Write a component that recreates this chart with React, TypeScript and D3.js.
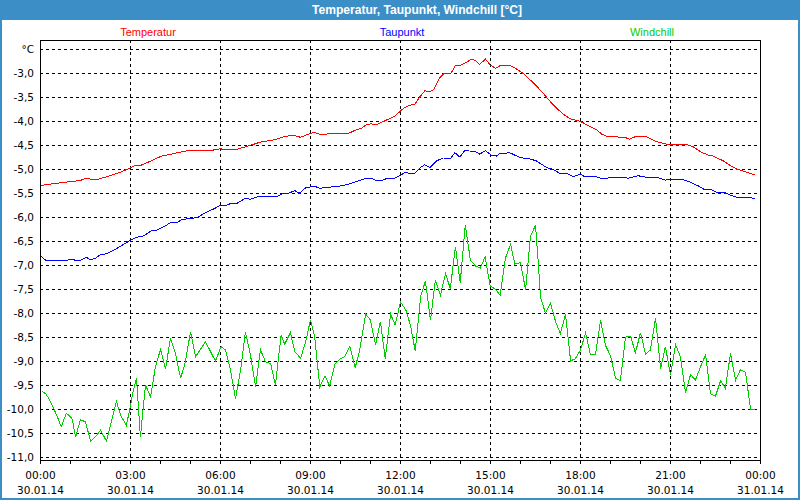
import React from "react";
import * as d3 from "d3";

const tempHours = [0.02,0.76,1.32,1.48,1.87,2.32,2.65,2.98,3.15,3.32,3.65,4.04,4.43,4.87,5.21,5.48,5.71,5.98,6.15,6.54,6.98,7.32,7.82,8.09,8.42,8.67,8.98,9.14,9.31,9.81,10.26,10.53,10.7,10.87,11.03,11.2,11.53,11.81,12.0,12.14,12.31,12.48,12.64,12.81,12.98,13.11,13.29,13.44,13.67,13.83,13.98,14.14,14.34,14.48,14.64,14.83,15.0,15.17,15.34,15.64,15.81,16.09,16.42,16.7,17.03,17.37,17.64,18.0,18.31,18.53,18.7,18.92,19.14,19.48,19.64,19.81,20.2,20.53,20.87,21.09,21.31,21.53,21.76,22.03,22.26,22.42,22.76,22.98,23.2,23.42,23.64,23.81];
const tempValues = [-5.33,-5.27,-5.23,-5.19,-5.21,-5.13,-5.06,-4.97,-4.92,-4.92,-4.83,-4.72,-4.67,-4.61,-4.6,-4.61,-4.6,-4.57,-4.58,-4.58,-4.5,-4.43,-4.38,-4.32,-4.28,-4.33,-4.25,-4.23,-4.27,-4.25,-4.25,-4.17,-4.14,-4.06,-4.05,-4.07,-3.97,-3.89,-3.78,-3.71,-3.66,-3.64,-3.49,-3.36,-3.38,-3.33,-3.1,-3.01,-3.01,-2.83,-2.83,-2.79,-2.71,-2.72,-2.81,-2.7,-2.83,-2.89,-2.83,-2.83,-2.88,-3.0,-3.19,-3.37,-3.61,-3.82,-3.94,-4.0,-4.1,-4.17,-4.26,-4.32,-4.32,-4.33,-4.37,-4.32,-4.32,-4.42,-4.47,-4.49,-4.47,-4.48,-4.53,-4.64,-4.7,-4.72,-4.82,-4.91,-4.99,-5.03,-5.08,-5.11];

const dewHours = [0.03,0.17,0.89,1.0,1.17,1.33,1.53,1.67,1.83,2.0,2.17,2.44,2.72,3.0,3.17,3.44,3.72,3.89,4.17,4.33,4.56,4.72,4.89,5.22,5.5,5.78,6.02,6.22,6.33,6.56,6.83,7.0,7.22,7.89,8.06,8.2,8.48,8.62,8.84,9.14,9.31,9.76,10.03,10.26,10.53,10.87,11.03,11.18,11.37,11.53,11.81,11.98,12.14,12.31,12.48,12.64,12.81,12.98,13.2,13.42,13.67,13.81,13.98,14.14,14.48,14.64,14.83,15.03,15.2,15.31,15.64,15.98,16.31,16.53,16.87,17.09,17.31,17.53,17.76,18.0,18.14,18.53,18.67,18.87,19.2,19.42,19.59,19.92,20.09,20.31,20.59,20.81,21.09,21.31,21.48,21.64,21.92,22.14,22.36,22.59,22.76,22.98,23.2,23.53,23.81];
const dewValues = [-6.81,-6.89,-6.89,-6.87,-6.89,-6.89,-6.83,-6.88,-6.85,-6.77,-6.76,-6.68,-6.58,-6.47,-6.42,-6.38,-6.27,-6.26,-6.17,-6.11,-6.1,-6.04,-6.03,-6.0,-5.9,-5.82,-5.74,-5.74,-5.71,-5.7,-5.6,-5.62,-5.57,-5.56,-5.51,-5.51,-5.44,-5.5,-5.38,-5.35,-5.39,-5.36,-5.34,-5.31,-5.25,-5.18,-5.18,-5.23,-5.23,-5.19,-5.18,-5.13,-5.06,-5.08,-5.08,-4.97,-4.9,-4.96,-4.82,-4.76,-4.77,-4.65,-4.74,-4.61,-4.62,-4.68,-4.61,-4.7,-4.72,-4.67,-4.65,-4.75,-4.78,-4.82,-4.96,-5.0,-5.08,-5.08,-5.15,-5.1,-5.15,-5.15,-5.18,-5.18,-5.16,-5.17,-5.18,-5.13,-5.15,-5.17,-5.17,-5.22,-5.21,-5.21,-5.22,-5.26,-5.34,-5.42,-5.42,-5.49,-5.47,-5.53,-5.58,-5.58,-5.6];

const chillHours = [0.03,0.17,0.28,0.39,0.56,0.69,0.86,1.0,1.06,1.17,1.33,1.5,1.67,1.83,2.0,2.2,2.39,2.53,2.67,2.86,3.0,3.06,3.2,3.33,3.5,3.67,3.83,4.0,4.17,4.33,4.5,4.67,4.83,5.0,5.17,5.5,5.83,6.02,6.17,6.33,6.5,6.67,6.83,7.0,7.17,7.33,7.5,7.67,7.83,8.02,8.14,8.33,8.48,8.67,8.84,9.0,9.14,9.31,9.48,9.64,9.81,9.98,10.14,10.31,10.49,10.64,10.84,11.0,11.17,11.33,11.49,11.67,11.82,12.0,12.18,12.33,12.49,12.67,12.83,13.0,13.16,13.33,13.5,13.66,13.83,13.99,14.16,14.33,14.5,14.66,14.82,14.99,15.16,15.32,15.5,15.67,15.81,16.0,16.17,16.33,16.5,16.59,16.67,16.83,17.0,17.17,17.33,17.5,17.67,17.83,18.0,18.17,18.33,18.5,18.67,18.83,19.0,19.17,19.33,19.5,19.67,19.83,20.0,20.17,20.33,20.5,20.67,20.83,21.0,21.17,21.33,21.5,21.67,21.83,22.0,22.17,22.33,22.5,22.67,22.83,23.0,23.17,23.33,23.5,23.67,23.81];
const chillValues = [-9.61,-9.67,-9.77,-9.91,-10.15,-10.36,-10.08,-10.15,-10.2,-10.58,-10.21,-10.26,-10.66,-10.57,-10.43,-10.66,-10.19,-9.83,-10.12,-10.33,-9.93,-9.7,-9.35,-10.57,-9.49,-9.74,-9.11,-8.75,-9.15,-8.52,-8.83,-9.35,-9.01,-8.38,-8.9,-8.59,-8.99,-8.69,-8.76,-9.17,-9.77,-9.18,-8.38,-8.87,-9.53,-8.75,-9.01,-9.04,-9.49,-8.45,-8.64,-8.4,-8.8,-8.93,-8.59,-8.13,-8.49,-9.53,-9.3,-9.51,-9.06,-8.95,-8.9,-8.69,-9.13,-8.76,-8.01,-8.14,-8.66,-8.17,-8.94,-8.01,-8.24,-7.76,-7.93,-8.24,-8.78,-7.65,-7.32,-8.14,-7.31,-7.62,-7.17,-7.48,-6.61,-7.36,-6.15,-6.89,-7.01,-7.05,-6.82,-7.43,-7.49,-7.62,-6.84,-6.56,-6.97,-6.94,-7.51,-6.4,-6.16,-6.92,-7.67,-7.99,-7.79,-8.17,-8.42,-8.01,-8.99,-8.94,-8.76,-8.4,-8.85,-8.85,-8.14,-8.66,-8.88,-9.35,-9.4,-8.49,-8.47,-8.82,-8.4,-8.85,-8.76,-8.1,-9.15,-8.69,-9.28,-8.65,-8.9,-9.65,-9.27,-9.39,-9.11,-8.86,-9.67,-9.72,-9.4,-9.56,-8.83,-9.39,-9.17,-9.22,-10.0,-10.0];

const seriesNames = ["Temperatur", "Taupunkt", "Windchill"];
const seriesColors = ["#ff0000", "#0000ff", "#00cc00"];
const yTickValues = [-2.5,-3,-3.5,-4,-4.5,-5,-5.5,-6,-6.5,-7,-7.5,-8,-8.5,-9,-9.5,-10,-10.5,-11];
const xTickHours = [0,3,6,9,12,15,18,21,24];
const xTimeLabels = ["00:00","03:00","06:00","09:00","12:00","15:00","18:00","21:00","00:00"];
const xDateLabels = ["30.01.14","30.01.14","30.01.14","30.01.14","30.01.14","30.01.14","30.01.14","30.01.14","31.01.14"];
const title = "Temperatur, Taupunkt, Windchill [°C]";

export default function App() {
  const W = 800, H = 500;
  const left = 40, right = 760, top = 40, bottom = 460;
  const x = d3.scaleLinear().domain([0, 24]).range([40.5, 760.5]);
  const y = d3.scaleLinear().domain([-11, -2.5]).range([457.5, 49.5]);
  const line = d3.line<[number, number]>().x(d => x(d[0])).y(d => y(d[1]));
  const series = [
    tempHours.map((h, i) => [h, tempValues[i]] as [number, number]),
    dewHours.map((h, i) => [h, dewValues[i]] as [number, number]),
    chillHours.map((h, i) => [h, chillValues[i]] as [number, number]),
  ];
  const legendX = [148, 402, 652];
  const fmt = (v: number) => d3.format(".1f")(v).replace(".", ",").replace("−", "-");
  const minorHours = d3.range(0, 25);
  const font = "'DejaVu Sans', Verdana, sans-serif";
  return (
    <svg width={W} height={H} style={{ position: "fixed", left: 0, top: 0, background: "#fff" }}>
      <rect x={0} y={0} width={W} height={H} fill="#ffffff" />
      <rect x={0} y={0} width={W} height={20} fill="#3c8ec6" />
      <rect x={1} y={1} width={W - 2} height={H - 2} fill="none" stroke="#3c8ec6" strokeWidth={2} />
      <text x={417} y={14} textAnchor="middle" fill="#ffffff" fontFamily="'Liberation Sans', Arial, sans-serif" fontWeight="bold" fontSize={12} textLength={210} lengthAdjust="spacingAndGlyphs">{title}</text>
      {seriesNames.map((n, i) => (
        <text key={n} x={legendX[i]} y={36} textAnchor="middle" fill={seriesColors[i]} fontFamily="'Liberation Sans', Arial, sans-serif" fontSize={11}>{n}</text>
      ))}
      {yTickValues.map(v => (
        <line key={"gy" + v} x1={left} x2={right} y1={y(v)} y2={y(v)} stroke="#000" strokeDasharray="3,3" shapeRendering="crispEdges" />
      ))}
      {xTickHours.slice(1, -1).map(h => (
        <line key={"gx" + h} x1={x(h)} x2={x(h)} y1={top} y2={bottom} stroke="#000" strokeDasharray="3,3" shapeRendering="crispEdges" />
      ))}
      {minorHours.map(h => (
        <line key={"t" + h} x1={x(h)} x2={x(h)} y1={bottom} y2={bottom + 4} stroke="#000" shapeRendering="crispEdges" />
      ))}
      <rect x={left + 0.5} y={top + 0.5} width={right - left} height={bottom - top} fill="none" stroke="#000" shapeRendering="crispEdges" />
      {series.map((s, i) => (
        <path key={"s" + i} d={line(s) || ""} fill="none" stroke={seriesColors[i]} strokeWidth={1} shapeRendering="crispEdges" />
      ))}
      {yTickValues.map((v, i) => (
        <text key={"yl" + v} x={34} y={y(v)} dy="0.35em" textAnchor="end" fontFamily={font} fontSize={10.5} fill="#000">{i === 0 ? "°C" : fmt(v)}</text>
      ))}
      {xTickHours.map((h, i) => (
        <g key={"xl" + i}>
          <text x={x(h)} y={479} textAnchor="middle" fontFamily={font} fontSize={10.5} fill="#000">{xTimeLabels[i]}</text>
          <text x={x(h)} y={494} textAnchor="middle" fontFamily={font} fontSize={10.5} fill="#000">{xDateLabels[i]}</text>
        </g>
      ))}
    </svg>
  );
}
